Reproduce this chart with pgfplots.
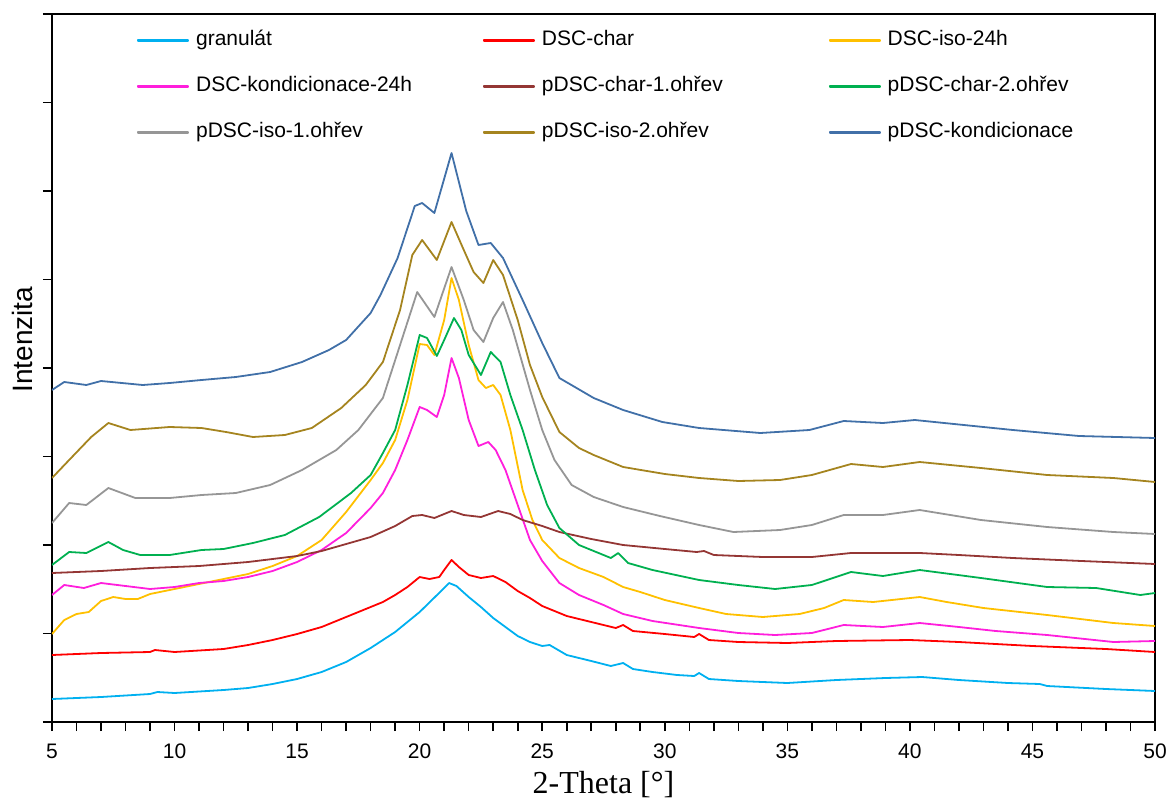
\documentclass[border=0pt]{standalone}
\usepackage{fontspec}
\setmainfont{Liberation Sans}
\newfontfamily\timesfont{Liberation Serif}
\usepackage{pgfplots}
\pgfplotsset{compat=1.18}
\definecolor{cGran}{RGB}{0,176,240}
\definecolor{cChar}{RGB}{255,0,0}
\definecolor{cIso}{RGB}{255,192,0}
\definecolor{cKond}{RGB}{255,30,220}
\definecolor{cPC1}{RGB}{148,54,52}
\definecolor{cPC2}{RGB}{0,176,80}
\definecolor{cPI1}{RGB}{150,150,150}
\definecolor{cPI2}{RGB}{165,132,31}
\definecolor{cPK}{RGB}{65,112,168}
\begin{document}
\begin{tikzpicture}
\begin{axis}[
  scale only axis, width=551.5pt, height=354pt,
  xmin=5, xmax=50, ymin=0, ymax=708,
  xtick={5,10,...,50}, minor x tick num=4,
  ytick={0,88.5,177,265.5,354,442.5,531,619.5,708}, yticklabels={},
  tick pos=left, tick align=outside,
  major tick length=4.5pt, minor tick length=4.5pt,
  every tick/.style={black, line width=0.8pt},
  axis line style={line width=0.9pt},
  /pgf/number format/assume math mode=true,
  ticklabel style={font=\fontsize{10.5}{12}\selectfont},
  xticklabel style={anchor=base, yshift=-13.5pt},
  xlabel={\timesfont 2-Theta [°]},
  ylabel={Intenzita},
  every axis x label/.style={at={(axis description cs:0.5,0)}, anchor=base, yshift=-35.5pt, font=\fontsize{16}{18}\selectfont},
  every axis y label/.style={at={(axis description cs:-0.0263,0.54)}, anchor=center, rotate=90, font=\fontsize{14}{16}\selectfont},
  legend columns=3,
  legend cell align=left,
  legend style={at={(axis description cs:0.077,0.978)}, anchor=north west, draw=none, fill=none, inner sep=0pt,
    font=\fontsize{10.5}{12}\selectfont,
    nodes={inner sep=0pt, text width=143.5pt, text height=8pt, text depth=2.5pt},
    row sep=12.5pt,
    /tikz/every odd column/.append style={column sep=3.5pt}},
  legend image code/.code={\fill[#1] (0pt,-0.4pt) rectangle (25pt,0.4pt);},
  every axis plot/.append style={line width=0.9pt, line join=round},
]
\addplot[color=cGran] coordinates {(5,23)(7,25)(9,28)(9.3,30)(10,29)(12,32)(13,34)(14,38)(15,43)(16,50)(17,60)(18,74)(18.5,82)(19,90)(19.5,100)(20,110)(20.5,122)(21,134)(21.2,139)(21.5,136)(22,125)(22.5,115)(23,104)(23.5,95)(24,86)(24.5,80)(25,76)(25.3,77)(26,67)(27,61)(27.8,56)(28.3,59)(28.7,53)(29.5,50)(30.5,47)(31.2,46)(31.4,49)(31.8,43)(33,41)(35,39)(37,42)(39,44)(40.5,45)(42,42)(44,39)(45.3,38)(45.6,36)(48,33)(50,31)};
\addlegendentry{granulát}
\addplot[color=cChar] coordinates {(5,67)(7,69)(9,70)(9.2,72)(10,70)(12,73)(13,77)(14,82)(15,88)(16,95)(17,105)(18,115)(18.5,120)(19,127)(19.5,135)(20,145)(20.4,143)(20.8,145)(21,152)(21.3,162)(21.6,155)(22,147)(22.5,144)(23,146)(23.5,140)(24,131)(24.5,124)(25,116)(26,106)(27,100)(28,94)(28.3,97)(28.7,91)(30,88)(31.2,85)(31.4,88)(31.8,82)(33,80)(35,79)(37,81)(40,82)(42,80)(45,76)(48,73)(50,70)};
\addlegendentry{DSC-char}
\addplot[color=cIso] coordinates {(5,88)(5.5,102)(6,108)(6.5,110)(7,121)(7.5,125)(8,123)(8.5,123)(9,128)(10,133)(11,138)(12,143)(13,148)(14,156)(15,166)(16,182)(17,210)(18,242)(18.5,259)(19,282)(19.5,322)(20,378)(20.3,377)(20.6,367)(21,402)(21.3,444)(21.6,422)(22,377)(22.4,342)(22.7,334)(23,337)(23.3,327)(23.7,292)(24.2,232)(24.6,202)(25,182)(25.7,164)(26.5,154)(27.5,145)(28.3,135)(29,130)(30,122)(31.4,114)(32.5,108)(34,105)(35.5,108)(36.5,114)(37.3,122)(38.5,120)(40.4,125)(41.5,120)(43,114)(45.6,107)(48.3,99)(50,96)};
\addlegendentry{DSC-iso-24h}
\addplot[color=cKond] coordinates {(5,127)(5.5,137)(6.3,134)(7,139)(8,136)(9,133)(10,135)(11,139)(12,141)(13,145)(14,151)(15,160)(16,172)(17,189)(18,214)(18.5,229)(19,252)(19.5,282)(20,315)(20.3,312)(20.7,305)(21,327)(21.3,364)(21.6,344)(22,302)(22.4,276)(22.8,280)(23.1,272)(23.5,252)(24,217)(24.5,182)(25,161)(25.7,139)(26.5,127)(27.5,117)(28.3,108)(29.5,101)(31.4,94)(33,89)(34.5,87)(36,89)(37.3,97)(38.9,95)(40.4,99)(42,95)(43.5,91)(45.6,87)(48.3,80)(50,81)};
\addlegendentry{DSC-kondicionace-24h}
\addplot[color=cPC1] coordinates {(5,149)(7,151)(9,154)(11,156)(13,160)(15,166)(16,171)(17,178)(18,185)(19,196)(19.7,206)(20.1,207)(20.6,204)(21.3,211)(21.8,207)(22.5,205)(23.2,211)(23.7,208)(24.2,202)(25,196)(25.7,190)(27,183)(28.3,177)(30,173)(31.3,170)(31.6,171)(32,167)(34,165)(36,165)(37.6,169)(40.4,169)(42,167)(44.2,164)(47,161)(50,158)};
\addlegendentry{pDSC-char-1.ohřev}
\addplot[color=cPC2] coordinates {(5,157)(5.7,170)(6.4,169)(7.3,180)(7.9,172)(8.6,167)(9.8,167)(11.1,172)(12,173)(13.2,179)(14.5,187)(15.9,205)(17.2,229)(18,247)(18.5,269)(19,292)(19.5,337)(20,387)(20.3,384)(20.7,366)(21,382)(21.4,404)(21.7,392)(22,367)(22.5,347)(22.9,370)(23.3,360)(23.7,327)(24.2,292)(24.7,252)(25.2,217)(25.7,194)(26.5,177)(27.1,171)(27.8,164)(28.1,169)(28.5,159)(29.5,152)(31.4,142)(33,137)(34.5,133)(36,137)(37.6,150)(38.9,146)(40.4,152)(42.9,144)(45.6,135)(47.6,134)(49.4,127)(50,129)};
\addlegendentry{pDSC-char-2.ohřev}
\addplot[color=cPI1] coordinates {(5,199)(5.7,219)(6.4,217)(7.3,234)(8.4,224)(9.8,224)(11.1,227)(12.5,229)(13.9,237)(15.2,252)(16.6,272)(17.5,292)(18.5,324)(19.2,377)(19.9,430)(20.6,405)(21.3,455)(21.8,422)(22.2,392)(22.6,380)(23,404)(23.4,420)(23.8,392)(24.5,332)(25,292)(25.5,262)(26.2,237)(27.1,225)(28.3,215)(29.8,206)(31.4,197)(32.8,190)(34.7,192)(36,197)(37.3,207)(38.9,207)(40.4,212)(42.9,202)(45.6,195)(48.3,190)(50,188)};
\addlegendentry{pDSC-iso-1.ohřev}
\addplot[color=cPI2] coordinates {(5,244)(5.7,262)(6.6,285)(7.3,299)(8.2,292)(9.8,295)(11.1,294)(12.1,290)(13.2,285)(14.5,287)(15.6,294)(16.8,314)(17.8,337)(18.5,360)(19.2,412)(19.7,467)(20.1,482)(20.7,462)(21.3,500)(21.8,472)(22.2,450)(22.6,439)(23,462)(23.4,447)(24,402)(24.5,357)(25,325)(25.7,290)(26.5,274)(27.1,267)(28.3,255)(30,248)(31.4,244)(33,241)(34.7,242)(36,247)(37.6,258)(38.9,255)(40.4,260)(42.9,254)(45.6,247)(48.3,244)(50,240)};
\addlegendentry{pDSC-iso-2.ohřev}
\addplot[color=cPK] coordinates {(5,332)(5.5,340)(6.4,337)(7,341)(8.7,337)(9.8,339)(11.1,342)(12.5,345)(13.9,350)(15.2,360)(16.3,372)(17,382)(18,409)(18.4,427)(19.1,464)(19.8,516)(20.1,519)(20.6,509)(21.3,569)(21.9,511)(22.4,477)(22.9,479)(23.4,464)(24.2,422)(25,379)(25.7,344)(27.1,324)(28.3,312)(29.9,300)(31.4,294)(33.9,289)(35.9,292)(37.3,301)(38.9,299)(40.2,302)(42.2,297)(44.2,292)(46.9,286)(50,284)};
\addlegendentry{pDSC-kondicionace}
\end{axis}
\pgfresetboundingbox
\path (-26pt,-38pt) rectangle (559pt,361pt);
\end{tikzpicture}
\end{document}
